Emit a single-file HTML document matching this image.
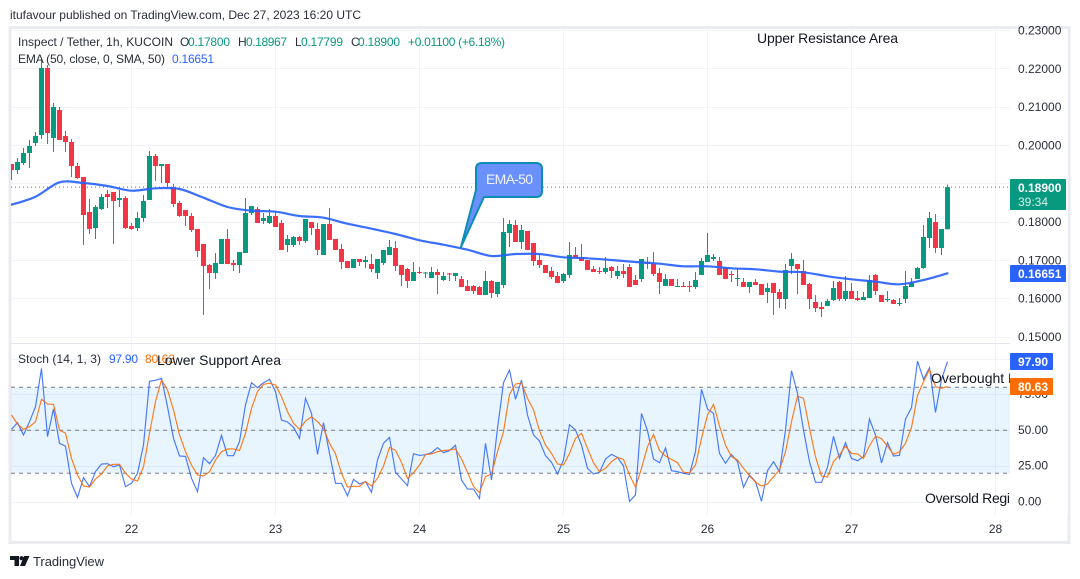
<!DOCTYPE html>
<html lang="en">
<head>
<meta charset="utf-8">
<title>Inspect / Tether chart</title>
<style>
html,body{margin:0;padding:0;background:#fff;width:1080px;height:579px;overflow:hidden}
svg{display:block}
text{font-family:"Liberation Sans",sans-serif;font-size:12px;fill:#131722}
</style>
</head>
<body>
<svg id="chart" xmlns="http://www.w3.org/2000/svg" width="1080" height="579" viewBox="0 0 1080 579">
  <defs>
    <clipPath id="plot-clip"><rect x="11" y="30" width="999" height="313"/></clipPath>
    <clipPath id="stoch-clip"><rect x="11" y="345" width="999" height="170"/></clipPath>
  </defs>
  <text x="10" y="19" textLength="351" lengthAdjust="spacing" fill="#131722" style="fill:#2a2e39">itufavour published on TradingView.com, Dec 27, 2023 16:20 UTC</text>
  <rect x="10" y="27.5" width="1059" height="515" fill="#fff" stroke="#eaebf1" stroke-width="3"/>
  <g id="grid"></g>
  <rect x="11" y="387.3" width="999" height="86" fill="#2196f3" fill-opacity="0.1"/>
  <g id="stoch-guides"></g>
  <line x1="11" y1="343.5" x2="1069" y2="343.5" stroke="#e4e6ec" stroke-width="1"/>
  <g id="candles" clip-path="url(#plot-clip)"></g>
  <line id="last-price-line" x1="11" x2="1010" stroke="#089981" stroke-width="1" stroke-dasharray="1 3"/>
  <path id="ema-line" fill="none" stroke="#2962ff" stroke-width="2.2" stroke-linejoin="round" stroke-linecap="round" stroke-opacity="0.92" clip-path="url(#plot-clip)"/>
  <path id="stoch-k" fill="none" stroke="#2962ff" stroke-width="1.15" stroke-opacity="0.85" clip-path="url(#stoch-clip)"/>
  <path id="stoch-d" fill="none" stroke="#ff6d00" stroke-width="1.15" stroke-opacity="0.9" clip-path="url(#stoch-clip)"/>

  <path d="M482 163 H536 Q542 163 542 169 V191 Q542 197 536 197 H484 L461 247 L476 190 V169 Q476 163 482 163 Z" fill="#6a90fb" stroke="#0b8db5" stroke-width="2" stroke-linejoin="round"/>
  <text x="509.5" y="184" text-anchor="middle" textLength="47" style="font-size:14px;fill:#eef2ff">EMA-50</text>

  <text x="18" y="46" textLength="155" style="fill:#2a2e39">Inspect / Tether, 1h, KUCOIN</text>
  <text x="180" y="46" style="fill:#2a2e39">O</text>
  <text x="188" y="46" textLength="42" style="fill:#089981">0.17800</text>
  <text x="238" y="46" style="fill:#2a2e39">H</text>
  <text x="246" y="46" textLength="41" style="fill:#089981">0.18967</text>
  <text x="295" y="46" style="fill:#2a2e39">L</text>
  <text x="301" y="46" textLength="42" style="fill:#089981">0.17799</text>
  <text x="351" y="46" style="fill:#2a2e39">C</text>
  <text x="358" y="46" textLength="42" style="fill:#089981">0.18900</text>
  <text x="408" y="46" textLength="97" style="fill:#089981">+0.01100 (+6.18%)</text>
  <text x="18" y="63" textLength="147" style="fill:#2a2e39">EMA (50, close, 0, SMA, 50)</text>
  <text x="172" y="63" textLength="42" style="fill:#2962ff">0.16651</text>
  <text x="18" y="363" textLength="83" style="fill:#2a2e39">Stoch (14, 1, 3)</text>
  <text x="109" y="363" textLength="29" style="fill:#2962ff">97.90</text>
  <text x="145" y="363" textLength="30" style="fill:#ff6d00">80.63</text>

  <text x="757" y="43" textLength="141" style="font-size:14px">Upper Resistance Area</text>
  <text x="157" y="365" textLength="124" style="font-size:14px">Lower Support Area</text>
  <text x="931" y="383" style="font-size:14px">Overbought Level</text>
  <text x="925" y="503" textLength="100" style="font-size:14px">Oversold Region</text>

  <rect x="1010" y="29" width="58" height="486" fill="#fff"/>
  <g id="axis-labels"></g>

  <rect x="1010" y="179" width="56" height="31" rx="1" fill="#089981"/>
  <text x="1018" y="192" style="fill:#fff;font-weight:bold">0.18900</text>
  <text x="1018" y="206" style="fill:#d5efe9">39:34</text>
  <rect x="1010" y="265" width="56" height="17" rx="1" fill="#2962ff"/>
  <text x="1018" y="278" style="fill:#fff;font-weight:bold">0.16651</text>
  <rect x="1010" y="353" width="43" height="17" rx="1" fill="#2962ff"/>
  <text x="1018" y="366" style="fill:#fff;font-weight:bold">97.90</text>
  <rect x="1010" y="378" width="43" height="17" rx="1" fill="#ff6d00"/>
  <text x="1018" y="391" style="fill:#fff;font-weight:bold">80.63</text>

  <g>
    <path d="M10 556 H19 V566 H14.5 V560 H10 Z M24 556 H29.5 L25 566 H20 Z" fill="#131722"/>
    <circle cx="21.5" cy="558.2" r="2.1" fill="#131722"/>
    <text x="33" y="566" textLength="71" style="font-size:13px;fill:#2a2e39">TradingView</text>
  </g>
</svg>
<script>
// Candle values, in thousandths of USDT, one entry per hourly bar.
const opens = [
195.04,193.47,195.30,197.91,200.52,202.61,220.11,201.83,209.14,202.35,
200.78,194.52,191.65,182.51,178.33,183.29,187.21,187.73,185.64,186.16,
178.85,178.33,180.94,185.64,197.13,194.52,195.04,189.03,184.86,183.03,
181.46,178.07,174.15,168.67,166.58,168.93,175.46,169.19,168.67,171.80,
182.25,183.29,180.16,179.63,181.46,179.63,173.89,173.89,175.98,174.93,
179.90,178.07,171.28,179.37,175.46,172.85,169.71,167.89,170.24,169.45,
168.93,166.58,169.19,171.28,173.11,168.67,167.62,164.49,166.84,166.45,
165.27,166.84,164.75,166.45,165.80,165.01,163.19,163.19,162.92,160.84,
164.49,161.10,163.45,177.02,179.11,174.67,177.55,174.41,169.97,168.67,
167.10,165.80,164.49,166.06,171.28,170.76,169.97,167.62,167.10,166.84,
168.15,165.80,167.10,168.15,164.75,165.01,169.45,168.93,166.58,163.19,
165.01,162.92,163.19,163.19,162.92,166.06,169.45,170.24,169.71,167.89,
166.32,165.01,164.23,162.92,164.23,163.71,161.62,163.97,161.62,159.79,
168.41,168.93,167.10,163.71,159.01,157.70,157.96,159.53,164.23,159.79,
161.88,160.05,159.53,160.05,166.06,160.84,159.53,159.53,158.49,159.79,
162.92,165.01,167.89,175.72,179.90,173.11,178.00];
const highs = [
195.04,196.61,199.22,201.31,203.39,222.19,220.89,210.97,209.92,203.66,
201.57,195.30,191.65,185.90,184.33,187.21,188.25,187.73,188.25,186.68,
179.63,182.51,186.94,198.43,197.65,195.04,195.04,189.82,185.38,183.03,
182.25,178.07,174.15,168.93,171.80,175.46,178.07,169.97,172.06,186.16,
184.07,183.81,182.25,183.29,182.77,180.42,176.50,176.24,176.24,180.68,
179.90,179.63,179.37,183.55,175.46,174.15,169.71,170.24,170.24,171.02,
171.54,170.24,172.59,175.20,174.93,168.67,167.89,169.45,168.15,166.84,
168.15,167.62,166.84,166.58,166.58,165.80,164.75,163.45,163.19,167.10,
164.75,164.23,180.94,180.42,180.42,179.11,177.55,174.41,171.54,168.67,
168.15,166.84,166.58,174.67,173.37,174.15,169.97,168.41,168.15,170.76,
168.41,168.41,168.93,168.93,166.06,170.24,170.76,172.06,167.89,166.32,
165.01,165.01,164.23,164.49,166.84,170.50,177.02,171.54,170.76,167.89,
167.10,167.89,165.27,164.23,165.01,163.71,163.97,163.97,162.40,168.93,
171.80,168.93,169.97,163.97,160.84,159.01,159.79,164.49,164.49,165.80,
163.97,161.88,161.62,166.06,166.32,160.84,161.88,159.79,160.05,167.10,
165.27,168.15,179.11,182.51,181.98,178.07,189.67];
const lows = [
190.86,192.43,194.78,194.00,199.74,201.57,200.26,198.17,201.31,198.17,
191.65,191.12,173.89,176.76,175.46,183.03,183.55,174.15,183.81,178.07,
177.81,177.55,179.90,185.64,190.60,190.08,189.03,183.81,181.20,178.85,
177.28,170.76,155.61,162.40,165.01,168.93,168.93,167.10,166.58,171.80,
181.72,179.63,179.37,179.37,178.59,172.59,172.06,173.37,173.89,174.41,
176.50,171.28,171.28,175.20,172.59,167.62,167.89,167.89,168.41,167.89,
166.84,165.01,168.67,171.28,167.10,163.19,162.66,164.49,166.32,165.27,
165.27,161.10,164.49,164.49,164.49,162.92,161.88,161.10,160.84,160.84,
160.05,160.31,162.66,173.37,174.67,172.85,172.59,168.41,167.89,166.58,
165.01,163.97,163.97,165.27,170.50,169.71,167.36,166.84,166.32,166.32,
165.27,165.01,165.27,162.92,163.45,164.23,167.62,165.80,161.10,163.19,
163.19,162.92,162.92,161.62,162.40,166.06,169.45,169.71,166.06,165.01,
164.23,163.19,162.92,161.36,163.45,160.84,158.75,155.61,157.44,157.18,
166.32,161.10,163.45,157.18,156.40,155.09,157.96,159.27,159.27,159.27,
159.79,159.27,159.53,160.05,160.84,159.01,159.01,158.49,157.96,158.75,
162.92,165.01,167.62,173.11,171.80,171.28,177.99];
const closes = [
193.47,195.56,197.91,199.74,202.35,220.11,203.13,209.92,201.31,200.78,
194.52,191.38,181.72,178.07,183.81,186.42,186.42,185.38,186.16,178.33,
178.07,180.94,185.38,197.13,194.52,195.04,190.08,184.60,181.46,181.46,
177.81,172.32,168.41,166.58,169.19,175.46,168.93,168.67,172.06,182.25,
184.07,179.63,180.94,181.46,178.59,172.59,175.46,175.98,174.93,180.68,
178.33,172.59,179.37,175.20,172.59,169.45,167.89,170.24,169.45,169.97,
167.62,170.24,172.59,173.37,168.41,166.06,164.49,166.84,166.58,166.71,
166.84,166.06,165.80,166.19,166.58,162.92,161.88,161.88,160.84,164.49,
161.36,164.23,177.28,179.37,174.67,177.81,172.59,169.71,168.67,166.58,
165.54,163.97,166.32,171.28,170.50,169.71,167.36,166.84,166.84,167.89,
167.10,167.10,166.32,162.92,163.45,170.24,168.93,166.32,164.23,165.01,
163.19,163.19,162.92,162.92,164.75,169.71,171.28,170.76,166.06,165.01,
166.06,165.27,162.92,164.23,163.45,160.84,162.66,161.36,159.79,167.36,
170.24,167.62,163.45,159.79,157.44,157.18,159.27,162.66,159.79,161.88,
159.79,159.53,160.31,164.75,161.88,159.01,159.79,158.49,158.75,163.19,
163.97,167.89,175.98,180.94,173.11,178.07,189.00];
// EMA-50, read every fourth bar.
const emaStep = 4;
const emaValues = [
184.41,186.50,190.26,190.08,189.30,188.07,188.70,188.51,186.24,183.81,
182.85,182.59,181.46,181.02,179.45,178.15,176.76,175.12,173.97,172.66,
171.02,171.54,171.54,170.68,170.42,169.97,169.45,169.01,168.33,168.33,
167.81,167.55,166.94,166.76,165.72,164.93,164.32,163.63,164.75,166.51];
// Stochastic %K and %D, one entry per bar.
const stochK = [
50.7,55.3,46.7,56.0,66.5,93.2,45.6,64.9,40.9,39.0,
13.0,3.2,17.0,10.7,21.1,26.5,26.7,24.6,25.8,10.7,
13.0,20.0,39.7,84.2,84.9,86.3,66.5,44.4,32.1,31.8,
16.5,7.2,30.9,26.7,32.5,46.5,32.3,32.3,42.1,67.7,
83.2,79.7,83.2,85.6,77.0,57.2,55.8,52.1,44.4,72.3,
61.8,33.2,55.3,33.9,13.0,13.0,4.2,15.8,12.5,14.2,
6.7,29.3,40.9,45.1,20.7,16.0,11.4,33.7,32.5,33.0,
34.4,37.9,34.4,35.8,39.5,15.3,9.0,9.0,2.5,40.9,
15.3,51.4,83.2,92.1,71.6,85.1,60.7,46.7,42.5,32.3,
27.7,19.5,29.3,53.9,50.2,39.7,23.5,19.5,20.7,30.0,
33.2,31.1,25.1,0.4,4.9,61.8,49.7,30.0,27.4,37.7,
21.8,21.1,20.0,19.3,35.1,78.6,64.9,61.8,33.9,27.0,
33.2,28.1,10.2,18.8,14.2,0.4,21.8,28.1,21.1,50.2,
91.6,75.8,50.2,28.1,13.7,13.7,24.2,45.8,30.4,41.4,
30.4,28.8,31.6,57.9,46.7,27.2,41.4,32.1,32.5,57.9,
65.8,98.3,85.6,93.7,62.5,85.6,97.9];
const stochD = [
60.7,54.4,50.7,52.5,56.0,71.6,68.3,68.1,50.2,47.9,
30.4,18.8,11.1,10.4,16.0,19.5,25.1,26.3,26.3,20.0,
16.0,14.6,24.6,47.9,70.0,85.1,78.1,64.2,46.7,35.1,
25.8,18.8,18.1,21.1,29.3,35.1,37.0,37.0,35.8,47.9,
65.3,77.0,82.1,82.8,81.6,73.5,63.0,54.9,50.7,56.5,
59.5,56.0,51.4,40.9,33.5,20.0,10.4,10.9,10.9,14.2,
11.1,16.5,25.1,38.1,36.0,27.7,16.3,20.4,25.8,33.2,
33.5,35.1,35.8,36.3,37.0,30.0,20.7,10.7,6.5,17.7,
19.5,35.1,49.0,75.1,82.3,83.0,72.3,64.2,49.7,39.7,
33.9,26.5,25.8,33.9,44.4,47.9,37.4,27.4,21.1,23.5,
28.1,31.1,29.7,18.8,10.2,23.5,38.6,47.0,35.8,32.1,
29.7,27.4,20.7,20.4,25.8,44.4,60.7,68.1,53.0,39.7,
31.6,29.3,23.5,18.3,13.7,11.1,12.5,17.7,22.3,35.1,
56.0,73.9,72.3,51.4,31.6,18.1,17.4,28.1,32.8,39.0,
33.9,33.5,30.4,39.3,45.8,44.2,39.0,33.2,35.1,40.9,
52.1,74.2,83.9,92.5,80.4,79.3,80.63];
// Axis ticks.
const priceTicks = [230,220,210,200,190,180,170,160,150];
const priceTickLabels = ["0.23000","0.22000","0.21000","0.20000","","0.18000","0.17000","0.16000","0.15000"];
const stochTicks = [100,75,50,25,0];
const stochTickLabels = ["","75.00","50.00","25.00","0.00"];
const stochGuides = [80,50,20];
const dayLabels = ["22","23","24","25","26","27","28"];
const dayTickBars = [20,44,68,92,116,140,164];
const lastClose = 189.00;

const NS = 'http://www.w3.org/2000/svg';
function xBar(i){ return 11.5 + 6 * i; }
function yPrice(p){ return 183.3 + (190 - p) * 3.83; }
function yStoch(v){ return 430.3 + (50 - v) * 1.433; }
function mk(tag, parent, attrs){
  const el = document.createElementNS(NS, tag);
  for (const k in attrs) el.setAttribute(k, attrs[k]);
  parent.appendChild(el);
  return el;
}
const grid = document.getElementById('grid');
const labels = document.getElementById('axis-labels');
const guides = document.getElementById('stoch-guides');
const candles = document.getElementById('candles');

priceTicks.forEach(function(t, i){
  const y = Math.round(yPrice(t)) + 0.5;
  const line = mk('line', grid, {x1: 11, x2: 1010, y1: y, y2: y, stroke: '#f0f3fa'});
  
  
  if (!priceTickLabels[i]) return;
  const txt = mk('text', labels, {x: 1018, y: yPrice(t) + 4.5});
  txt.style.fill = '#2a2e39';
  txt.textContent = priceTickLabels[i];
  
  
});
stochTicks.forEach(function(t, i){
  const y = Math.round(yStoch(t)) + 0.5;
  const line = mk('line', grid, {x1: 11, x2: 1010, y1: y, y2: y, stroke: '#f0f3fa'});
  
  
  if (!stochTickLabels[i]) return;
  const txt = mk('text', labels, {x: 1018, y: yStoch(t) + 3.5});
  txt.style.fill = '#2a2e39';
  txt.textContent = stochTickLabels[i];
  
  
});
dayTickBars.forEach(function(b, i){
  const x = Math.floor(xBar(b)) + 0.5;
  const top = mk('line', grid, {x1: x, x2: x, y1: 30, y2: 343, stroke: '#f0f3fa'});
  
  
  const bottom = mk('line', grid, {x1: x, x2: x, y1: 344, y2: 515, stroke: '#f0f3fa'});
  
  
  const txt = mk('text', labels, {x: x, y: 533, 'text-anchor': 'middle'});
  txt.style.fill = '#2a2e39';
  txt.textContent = dayLabels[i];
  
  
});
stochGuides.forEach(function(v){
  const y = yStoch(v);
  const line = mk('line', guides, {x1: 11, x2: 1010, y1: y, y2: y, stroke: '#787b86', 'stroke-dasharray': '4 4'});
  
  
});
opens.forEach(function(o, i){
  const c = closes[i];
  const color = c >= o ? '#089981' : '#f23645';
  const cx = Math.floor(xBar(i));
  const g = mk('g', candles, {});
  
  
  const yH = yPrice(highs[i]);
  const yL = yPrice(lows[i]);
  mk('rect', g, {x: cx, y: yH, width: 1, height: Math.max(yL - yH, 1), fill: color});
  const top = yPrice(Math.max(o, c));
  const bot = yPrice(Math.min(o, c));
  mk('rect', g, {x: cx - 2, y: top, width: 5, height: Math.max(bot - top, 1), fill: color});
});
function linePath(values, xf, yf){
  return values.map(function(v, i){
    return (i ? 'L' : 'M') + xf(i).toFixed(1) + ' ' + yf(v).toFixed(1);
  }).join(' ');
}
// Smooth curve through the sampled EMA values (Catmull-Rom converted to Bezier segments).
function smoothPath(values, xf, yf){
  const pts = values.map(function(v, i){ return [xf(i), yf(v)]; });
  let d = 'M' + pts[0][0].toFixed(1) + ' ' + pts[0][1].toFixed(1);
  for (let i = 0; i < pts.length - 1; i++) {
    const p0 = pts[Math.max(i - 1, 0)];
    const p1 = pts[i];
    const p2 = pts[i + 1];
    const p3 = pts[Math.min(i + 2, pts.length - 1)];
    d += ' C' + (p1[0] + (p2[0] - p0[0]) / 6).toFixed(1) + ' ' + (p1[1] + (p2[1] - p0[1]) / 6).toFixed(1) +
         ' ' + (p2[0] - (p3[0] - p1[0]) / 6).toFixed(1) + ' ' + (p2[1] - (p3[1] - p1[1]) / 6).toFixed(1) +
         ' ' + p2[0].toFixed(1) + ' ' + p2[1].toFixed(1);
  }
  return d;
}
document.getElementById('ema-line').setAttribute('d', smoothPath(emaValues, function(i){ return xBar(i * emaStep); }, yPrice));
document.getElementById('stoch-k').setAttribute('d', linePath(stochK, xBar, yStoch));
document.getElementById('stoch-d').setAttribute('d', linePath(stochD, xBar, yStoch));
const last = document.getElementById('last-price-line');
last.setAttribute('y1', yPrice(lastClose));
last.setAttribute('y2', yPrice(lastClose));
</script>
</body>
</html>
